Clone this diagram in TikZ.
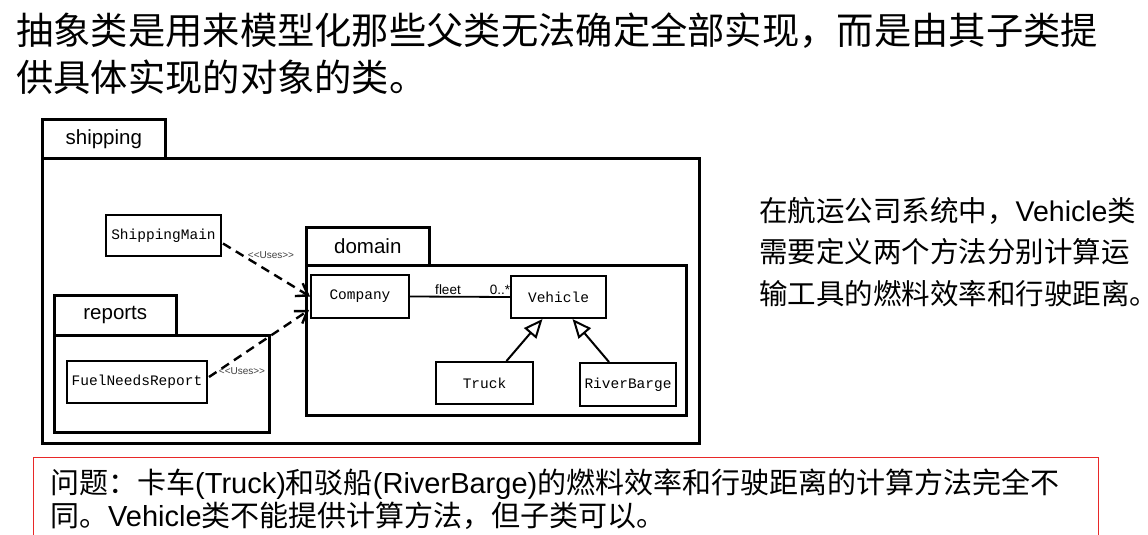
\documentclass[tikz,border=0pt]{standalone}
\usepackage{fontspec}
\setmainfont{Liberation Sans}
\newfontfamily\cjk{Noto Sans CJK SC}
\newfontfamily\monof{Liberation Mono}
\usetikzlibrary{arrows.meta,calc}
\definecolor{boxred}{RGB}{232,40,40}
\begin{document}
\begin{tikzpicture}[x=1pt,y=-1pt,
  pkg/.style={draw, line width=2.6pt, anchor=north west, inner sep=0pt},
  pkgname/.style={pkg, font=\fontsize{20.5}{23}\selectfont},
  cls/.style={draw, line width=2pt, anchor=north west, inner sep=0pt, font=\monof\fontsize{14.5}{16}\selectfont},
  uses/.style={line width=2.4pt, dash pattern=on 9pt off 6pt, -{Straight Barb[length=11pt,width=15pt]}},
  gen/.style={line width=2pt, -{Triangle[open,length=19pt,width=16pt,fill=white]}},
  small/.style={font=\fontsize{13.5}{15}\selectfont, inner sep=1pt},
  tiny/.style={font=\fontsize{10}{12}\selectfont, inner sep=0pt, text=black!75},
  txt/.style={anchor=base west, inner sep=0pt}
]
\useasboundingbox (0,0) rectangle (1148,535);

% top text
\node[txt, font=\cjk\fontsize{37.3}{45}\selectfont] (t1) at (16,45) {抽象类是用来模型化那些父类无法确定全部实现，而是由其子类提};
\node[txt, font=\cjk\fontsize{37.3}{45}\selectfont] (t2) at (16,92) {供具体实现的对象的类。};

% shipping package
\node[pkg, minimum width=657, minimum height=285] (shipB) at (41,157) {};
\node[pkgname, minimum width=123, minimum height=39] (shipT) at (41,118) {shipping};

\node[cls, minimum width=115, minimum height=41] (sm) at (105,214) {ShippingMain};

% domain package
\node[pkg, minimum width=380, minimum height=150] (domB) at (305,264) {};
\node[pkgname, minimum width=123, minimum height=38] (domT) at (305,226) {domain};
\node[cls, minimum width=98, minimum height=43] (cmp) at (310,274) {Company};
\node[cls, minimum width=95, minimum height=42] (veh) at (510,275) {Vehicle};
\node[cls, minimum width=97, minimum height=42] (trk) at (435,361) {Truck};
\node[cls, minimum width=96, minimum height=43] (rb) at (579,362) {RiverBarge};

% reports package
\node[pkg, minimum width=215, minimum height=97] (repB) at (53,334) {};
\node[pkgname, minimum width=122, minimum height=40] (repT) at (53,294) {reports};
\node[cls, minimum width=140, minimum height=42] (fnr) at (66,360) {FuelNeedsReport};

% connectors
\draw[uses] ($(sm.east)+(1,8)$) -- (cmp.west);
\draw[uses] ($(fnr.east)+(1,-5)$) -- ($(cmp.west)+(-1,13.5)$);
\node[tiny] (u1) at (271,255) {<{}<Uses>{}>};
\node[tiny] (u2) at (242,371) {<{}<Uses>{}>};

\draw[line width=1.8pt] (cmp.east) -- (veh.west)
  node[small, pos=0.38, above] (fl) {fleet}
  node[small, pos=0.9, above] (mul) {0..*};

\draw[gen] ($(trk.north)+(22,0)$) -- ($(veh.south)+(-16,0)$);
\draw[gen] ($(rb.north)+(-19,0)$) -- ($(veh.south)+(14,0)$);

% right text
\node[txt, font=\fontsize{28.5}{34}\selectfont] (r1) at (759,221) {{\cjk 在航运公司系统中，}Vehicle{\cjk 类}};
\node[txt, font=\cjk\fontsize{28.5}{34}\selectfont] (r2) at (759,262) {需要定义两个方法分别计算运};
\node[txt, font=\cjk\fontsize{28.5}{34}\selectfont] (r3) at (759,304) {输工具的燃料效率和行驶距离。};

% bottom box
\node[draw=boxred, line width=1pt, anchor=north west, minimum width=1065, minimum height=95, inner sep=0pt] (prob) at (33,457) {};
\node[txt, font=\fontsize{29}{34}\selectfont] (b1) at (50,493) {{\cjk 问题：卡车}(Truck){\cjk 和驳船}(RiverBarge){\cjk 的燃料效率和行驶距离的计算方法完全不}};
\node[txt, font=\fontsize{29}{34}\selectfont] (b2) at (50,526) {{\cjk 同。}Vehicle{\cjk 类不能提供计算方法，但子类可以。}};
\end{tikzpicture}
\end{document}
